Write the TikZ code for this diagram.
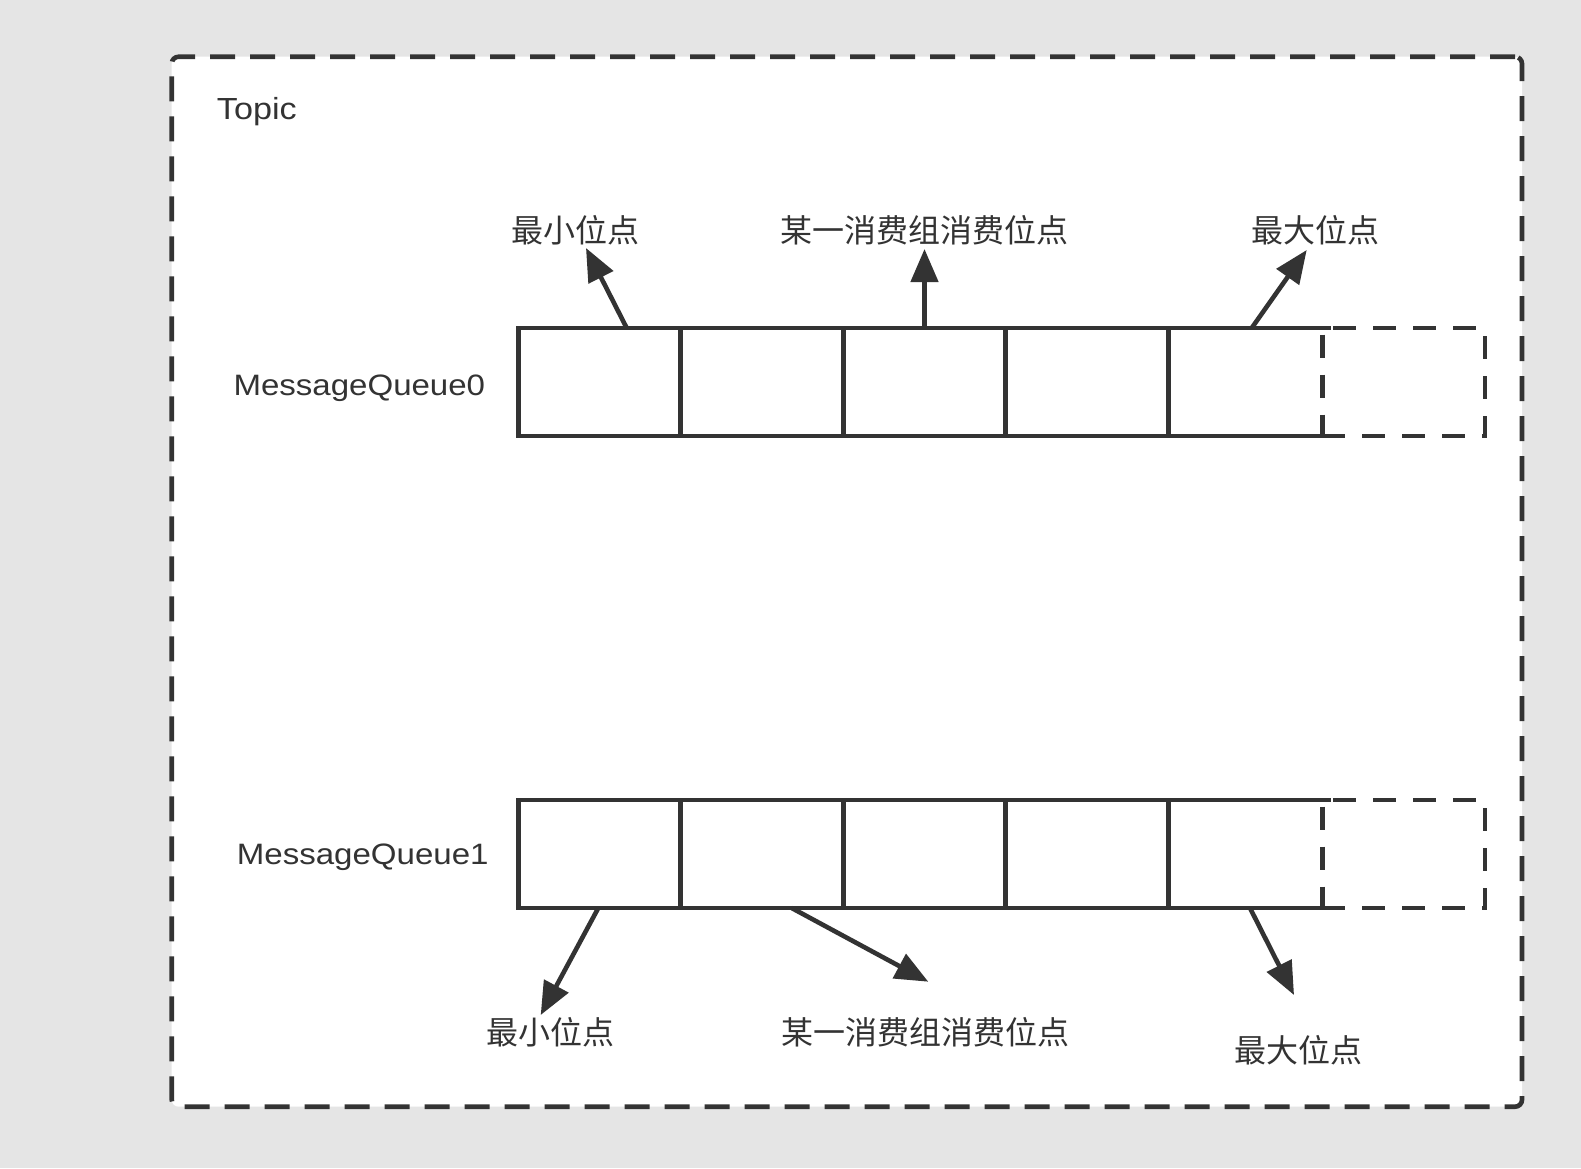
\documentclass[tikz,border=0pt]{standalone}
\usepackage{fontspec}
\setmainfont{Liberation Sans}
\newfontfamily\latf[FakeStretch=1.12]{Liberation Sans}
\newfontfamily\cjkf{Noto Sans CJK SC}
\usetikzlibrary{arrows.meta}
\definecolor{ink}{HTML}{333333}
\definecolor{bg}{HTML}{E5E5E5}
\begin{document}
\begin{tikzpicture}[x=1pt,y=-1pt,
  cell/.style={draw=ink,line width=4.6pt,minimum width=162.5pt,minimum height=108pt,inner sep=0pt,outer sep=0pt},
  ghost/.style={minimum width=162.5pt,minimum height=108pt,inner sep=0pt,outer sep=0pt},
  spare/.style={draw=ink,line width=4.6pt,dash pattern=on 23pt off 17pt,minimum width=162.7pt,minimum height=108pt,inner sep=0pt,outer sep=0pt},
  frame/.style={draw=ink,fill=white,line width=4.6pt,dash pattern=on 25pt off 15pt,rounded corners=7pt,inner sep=0pt,outer sep=0pt},
  qlabel/.style={font=\latf\fontsize{29.5}{30}\selectfont,text=ink,inner sep=0pt,anchor=base west},
  cjklabel/.style={font=\cjkf\fontsize{32}{34}\selectfont,text=ink,inner sep=0pt,anchor=base},
  arr/.style={draw=ink,line width=4.6pt,-{Triangle[length=33pt,width=27pt]}}]
\useasboundingbox (0,0) rectangle (1581,1168);
\fill[bg] (0,0) rectangle (1581,1168);
% outer frame
\node[frame,minimum width=1350.3pt,minimum height=1050pt] (topic) at (846.85,581.7) {};
\node[font=\latf\fontsize{30.5}{32}\selectfont,text=ink,inner sep=0pt,anchor=base west] (topiclabel) at (216.7,119.3) {Topic};
% queue labels
\node[qlabel] (q0label) at (233.3,395) {MessageQueue0};
\node[qlabel] (q1label) at (236.7,864) {MessageQueue1};
% queue 0 cells
\node[cell] (q0c1) at (599.45,382) {};
\node[cell] (q0c2) at (761.95,382) {};
\node[cell] (q0c3) at (924.45,382) {};
\node[cell] (q0c4) at (1086.95,382) {};
\node[ghost] (q0c5) at (1249.45,382) {};
\draw[ink,line width=4.6pt] (q0c5.north east) -- (q0c5.north west) -- (q0c5.south west) -- (q0c5.south east);
\node[spare] (q0c6) at (1403.65,382) {};
% queue 1 cells
\node[cell] (q1c1) at (599.45,854) {};
\node[cell] (q1c2) at (761.95,854) {};
\node[cell] (q1c3) at (924.45,854) {};
\node[cell] (q1c4) at (1086.95,854) {};
\node[ghost] (q1c5) at (1249.45,854) {};
\draw[ink,line width=4.6pt] (q1c5.north east) -- (q1c5.north west) -- (q1c5.south west) -- (q1c5.south east);
\node[spare] (q1c6) at (1403.65,854) {};
% top labels
\node[cjklabel] (min0) at (575,242) {最小位点};
\node[cjklabel] (grp0) at (924.6,242) {某一消费组消费位点};
\node[cjklabel] (max0) at (1315,242) {最大位点};
% bottom labels
\node[cjklabel] (min1) at (550,1044.5) {最小位点};
\node[cjklabel] (grp1) at (925,1044.5) {某一消费组消费位点};
\node[cjklabel] (max1) at (1298,1062.8) {最大位点};
% arrow end points
\coordinate (a0s) at (626.7,328);
\coordinate (a0e) at (586,248);
\coordinate (b0s) at (924.5,328);
\coordinate (b0e) at (924.5,249);
\coordinate (c0s) at (1251.7,328);
\coordinate (c0e) at (1306.7,250);
\coordinate (a1s) at (598.3,908);
\coordinate (a1e) at (540.7,1015);
\coordinate (b1s) at (791.7,908);
\coordinate (b1e) at (928.3,981.7);
\coordinate (c1s) at (1250,908);
\coordinate (c1e) at (1294,995);
\draw[arr] (a0s) -- (a0e);
\draw[arr] (b0s) -- (b0e);
\draw[arr] (c0s) -- (c0e);
\draw[arr] (a1s) -- (a1e);
\draw[arr] (b1s) -- (b1e);
\draw[arr] (c1s) -- (c1e);
\end{tikzpicture}
\end{document}
